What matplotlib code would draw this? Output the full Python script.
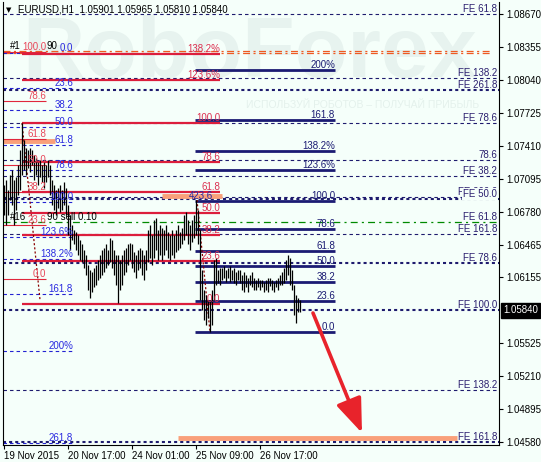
import matplotlib
matplotlib.use('Agg')
import matplotlib.pyplot as plt
import numpy as np

plt.rcParams['font.family'] = ['Liberation Sans', 'DejaVu Sans']
plt.rcParams['lines.scale_dashes'] = False

# H1 bars, one per hour (weekend skipped)
highs = [1.0704, 1.0709, 1.0699, 1.0713, 1.0718, 1.0709, 1.0711, 1.0723, 1.0737, 1.0763,
         1.0747, 1.0739, 1.0737, 1.0739, 1.0737, 1.0732, 1.0730, 1.0726, 1.0728, 1.0723,
         1.0726, 1.0723, 1.0728, 1.0723, 1.0709, 1.0704, 1.0699, 1.0701, 1.0704, 1.0699,
         1.0707, 1.0701, 1.0685, 1.0675, 1.0666, 1.0661, 1.0659, 1.0656, 1.0651, 1.0647,
         1.0642, 1.0637, 1.0627, 1.0623, 1.0621, 1.0625, 1.0627, 1.0632, 1.0637, 1.0642,
         1.0644, 1.0647, 1.0642, 1.0653, 1.0651, 1.0642, 1.0637, 1.0637, 1.0632, 1.0637,
         1.0642, 1.0644, 1.0647, 1.0648, 1.0647, 1.0640, 1.0637, 1.0642, 1.0644, 1.0642,
         1.0637, 1.0642, 1.0661, 1.0666, 1.0656, 1.0670, 1.0672, 1.0661, 1.0666, 1.0663,
         1.0661, 1.0666, 1.0659, 1.0656, 1.0661, 1.0656, 1.0661, 1.0666, 1.0659, 1.0663,
         1.0675, 1.0678, 1.0670, 1.0666, 1.0670, 1.0675, 1.0689, 1.0680, 1.0661, 1.0623,
         1.0604, 1.0599, 1.0594, 1.0594, 1.0604, 1.0632, 1.0634, 1.0623, 1.0625, 1.0625,
         1.0626, 1.0623, 1.0625, 1.0626, 1.0623, 1.0625, 1.0621, 1.0623, 1.0623, 1.0618,
         1.0621, 1.0618, 1.0615, 1.0618, 1.0621, 1.0615, 1.0613, 1.0615, 1.0613, 1.0613,
         1.0611, 1.0613, 1.0615, 1.0615, 1.0613, 1.0611, 1.0613, 1.0615, 1.0618, 1.0621,
         1.0625, 1.0632, 1.0637, 1.0634, 1.0623, 1.0608, 1.0599, 1.0596, 1.0594]
lows = [1.0675, 1.0666, 1.0675, 1.0689, 1.0685, 1.0666, 1.0680, 1.0694, 1.0699, 1.0713,
        1.0718, 1.0713, 1.0720, 1.0716, 1.0723, 1.0709, 1.0713, 1.0704, 1.0711, 1.0707,
        1.0701, 1.0707, 1.0711, 1.0694, 1.0685, 1.0680, 1.0675, 1.0682, 1.0678, 1.0680,
        1.0685, 1.0675, 1.0656, 1.0642, 1.0651, 1.0647, 1.0642, 1.0637, 1.0632, 1.0630,
        1.0625, 1.0618, 1.0604, 1.0596, 1.0602, 1.0606, 1.0608, 1.0613, 1.0615, 1.0618,
        1.0621, 1.0625, 1.0627, 1.0630, 1.0625, 1.0618, 1.0608, 1.0591, 1.0604, 1.0608,
        1.0618, 1.0621, 1.0627, 1.0632, 1.0625, 1.0621, 1.0615, 1.0623, 1.0625, 1.0618,
        1.0613, 1.0623, 1.0630, 1.0634, 1.0627, 1.0634, 1.0642, 1.0632, 1.0637, 1.0632,
        1.0637, 1.0642, 1.0634, 1.0632, 1.0637, 1.0634, 1.0640, 1.0642, 1.0644, 1.0647,
        1.0651, 1.0656, 1.0647, 1.0642, 1.0649, 1.0653, 1.0656, 1.0647, 1.0594, 1.0584,
        1.0575, 1.0570, 1.0577, 1.0563, 1.0570, 1.0594, 1.0608, 1.0610, 1.0608, 1.0613,
        1.0615, 1.0611, 1.0615, 1.0611, 1.0613, 1.0610, 1.0608, 1.0613, 1.0610, 1.0604,
        1.0602, 1.0606, 1.0602, 1.0608, 1.0606, 1.0604, 1.0604, 1.0606, 1.0604, 1.0606,
        1.0602, 1.0604, 1.0602, 1.0607, 1.0604, 1.0602, 1.0606, 1.0604, 1.0608, 1.0608,
        1.0610, 1.0613, 1.0618, 1.0608, 1.0604, 1.0580, 1.0572, 1.0583, 1.0583]

time_ticks = [0, 32, 64, 96, 128]
time_labels = ['19 Nov 2015', '20 Nov 17:00', '24 Nov 01:00', '25 Nov 09:00', '26 Nov 17:00']
price_ticks = [1.08670, 1.08355, 1.08040, 1.07725, 1.07410, 1.07095, 1.06780,
               1.06465, 1.06155, 1.05525, 1.05210, 1.04895, 1.04580]
last_price = 1.05840
header = 'EURUSD,H1  1.05901 1.05965 1.05810 1.05840'

# fibo expansion levels drawn across the whole chart
fe_labels = ['FE 61.8', 'FE 138.2', 'FE 261.8', 'FE 78.6', '78.6', 'FE 38.2', 'FE 200.0',
             'FE 50.0', 'FE 61.8', 'FE 161.8', 'FE 78.6', 'FE 100.0', 'FE 138.2', 'FE 161.8']
fe_prices = [1.08670, 1.08059, 1.07945, 1.07630, 1.07276, 1.07124, 1.06923,
             1.06904, 1.06685, 1.06570, 1.06293, 1.05845, 1.05081, 1.04585]
fe_thick = [False, False, True, False, False, False, False,
            True, False, False, True, True, False, True]

# fibo grids: levels, labels, price at 0 and at 100, first/last bar
red_levels = [0, 23.6, 38.2, 50, 61.8, 78.6, 100, 123.6, 138.2]
red_labels = ['0.0', '23.6', '38.2', '50.0', '61.8', '78.6', '100.0', '123.6%', '138.2%']
red_range = (1.05902, 1.07630)
red_bars = (9, 108)

small_levels = [0, 23.6, 38.2, 50, 61.8, 78.6, 100]
small_labels = ['0.0', '23.6', '38.2', '50.0', '61.8', '78.6', '100.0']
small_range = (1.06141, 1.08307)
small_bars = (-0.5, 21)

blue_levels = [0, 23.6, 38.2, 50, 61.8, 78.6, 100, 123.6, 138.2, 161.8, 200, 261.8]
blue_labels = ['0.0', '23.6', '38.2', '50.0', '61.8', '78.6', '100.0', '123.6%',
               '138.2%', '161.8', '200%', '261.8']
blue_range = (1.08298, 1.06876)
blue_bars = (-0.5, 34.5)

navy_levels = [0, 23.6, 38.2, 50, 61.8, 78.6, 100, 123.6, 138.2, 161.8, 200]
navy_labels = ['0.0', '23.6', '38.2', '50.0', '61.8', '78.6', '100.0', '123.6%',
               '138.2%', '161.8', '200%']
navy_range = (1.05635, 1.06885)
navy_bars = (95.5, 165.5)

# salmon bands: price, first bar, last bar
band_prices = [1.07458, 1.06933, 1.04623]
band_start = [-0.5, 79, 87]
band_end = [25.5, 109, 226.5]

green_price = 1.06685
orange_price = 1.08307
arrow_from = (154.5, 1.05816)
arrow_to = (179, 1.04671)
diag_1 = ([9, 18], [1.07630, 1.05941])
diag_2 = ([96.5, 103], [1.06894, 1.05635])

bg = '#F5FFFA'
fig = plt.figure(figsize=(5.41, 4.62), dpi=100, facecolor=bg)
ax = fig.add_axes([3 / 541, 17 / 462, 496 / 541, 443 / 462], facecolor=bg)
ax.set_xlim(-0.5, 247.5)
ax.set_ylim(1.045561, 1.087845)

# watermark
ax.text(0.498, 0.88, 'RoboForex', transform=ax.transAxes, ha='center', va='center',
        fontsize=62, fontweight='bold', color='#E7F3EF', zorder=0)
ax.text(0.724, 0.768, 'ИСПОЛЬЗУЙ РОБОТОВ – ПОЛУЧАЙ ПРИБЫЛЬ', transform=ax.transAxes,
        ha='center', va='center', fontsize=7.5, color='#E4F1EC', zorder=0)

def lab(x, y, s, color, ha='right'):
    ax.annotate(s, (x, y), xytext=(0, 2), textcoords='offset pixels', ha=ha,
                va='baseline', fontsize=7, color=color, zorder=5)

# full width FE lines
fe_col = '#1E1B6E'
for s, p, thick in zip(fe_labels, fe_prices, fe_thick):
    if p == green_price:
        continue
    if thick:
        ax.plot([-0.5, 247.5], [p, p], color=fe_col, lw=1.5, dashes=(2.2, 2.2), zorder=1)
    else:
        ax.plot([-0.5, 247.5], [p, p], color=fe_col, lw=0.8, dashes=(2.5, 2.2), zorder=1)
for s, p in zip(fe_labels, fe_prices):
    t = ax.annotate(s, (246.5, p), xytext=(0, 2), textcoords='offset pixels', ha='right',
                    va='baseline', fontsize=7, color='#2B1F6F', zorder=5)
    if s == 'FE 50.0':
        t.set_bbox(dict(facecolor=bg, edgecolor='none', pad=0.5))

ax.plot([-0.5, 247.5], [green_price] * 2, color='#008A00', lw=0.9,
        dashes=(5, 3, 1.5, 3), zorder=1)
for off in (0.00008, -0.00010):
    ax.plot([-0.5, 244], [orange_price + off] * 2, color='#EE5A22', lw=0.9,
            dashes=(5, 2.5, 1.5, 2.5), zorder=1)

# salmon bands
for p, a, b in zip(band_prices, band_start, band_end):
    ax.plot([a, b], [p, p], color='#F9A07A', lw=3.5, solid_capstyle='butt', zorder=1.5)

def fibo(levels, labels, rng, bars, color, lcolor, lw, dashed=False):
    p0, p100 = rng
    for lv, s in zip(levels, labels):
        p = p0 + (p100 - p0) * lv / 100.0
        if dashed:
            ax.plot(bars, [p, p], color=color, lw=lw, dashes=(2.5, 2.2), zorder=2)
        else:
            ax.plot(bars, [p, p], color=color, lw=lw, solid_capstyle='butt', zorder=2)
        lab(bars[1], p, s, lcolor)

fibo(blue_levels, blue_labels, blue_range, blue_bars, '#2323D2', '#2A2AE0', 0.8, dashed=True)
fibo(small_levels, small_labels, small_range, small_bars, '#E0283C', '#E8485A', 0.8)
fibo(red_levels, red_labels, red_range, red_bars, '#DC1E3C', '#DC3050', 1.6)
fibo(navy_levels, navy_labels, navy_range, navy_bars, '#1B1B73', '#1B1B73', 2.0)

ax.plot(*diag_1, color='#8B0000', lw=0.9, dashes=(1.5, 1.5), zorder=2.5)
ax.plot(*diag_2, color='#8B0000', lw=0.9, dashes=(1.5, 1.5), zorder=2.5)

# price bars
x = np.arange(len(highs))
ax.vlines(x, lows, highs, color='black', lw=0.9, zorder=3)

# order / object texts
ax.text(3, 1.08364, '#1', fontsize=7, va='center', color='black', zorder=5)
ax.text(21.5, 1.08364, '90', fontsize=7, va='center', color='black', zorder=5)
ax.text(3, 1.06732, '#16', fontsize=7, va='center', color='black', zorder=5)
ax.text(21.5, 1.06732, '90 sell 0.10', fontsize=7, va='center', color='black', zorder=5)
ax.text(104.5, 1.06933, '423.6', fontsize=7, va='center', ha='right', color='#2A2AA0', zorder=5)

# forecast arrow
ax.annotate('', xy=arrow_to, xytext=arrow_from,
            arrowprops=dict(arrowstyle='-|>,head_length=2.1,head_width=0.8', lw=2.6,
                            color='#E8232B', shrinkA=0, shrinkB=0, mutation_scale=10),
            zorder=6)

# axes
ax.spines['top'].set_visible(False)
for side in ['left', 'right', 'bottom']:
    ax.spines[side].set_color('black')
    ax.spines[side].set_linewidth(0.8)
ax.yaxis.tick_right()
ax.set_yticks(price_ticks)
ax.set_yticklabels(['%.5f' % p for p in price_ticks])
ax.tick_params(axis='y', length=3, width=0.8, pad=2, labelsize=7, colors='black')
ax.set_xticks(time_ticks)
ax.set_xticklabels(time_labels, ha='left')
ax.tick_params(axis='x', length=3, width=0.8, pad=1.5, labelsize=7, colors='black')

ax.annotate('%.5f' % last_price, (1.0, last_price), xycoords=('axes fraction', 'data'),
            xytext=(4, 0), textcoords='offset pixels', ha='left', va='center', fontsize=7,
            color='white', bbox=dict(boxstyle='square,pad=0.25', fc='black', ec='black'),
            annotation_clip=False, zorder=7)

fig.text(9 / 541, 1 - 10 / 462, '▼', fontsize=5, ha='center', va='center',
         family='DejaVu Sans')
fig.text(18 / 541, 1 - 10 / 462, header, fontsize=7, ha='left', va='center')

fig.savefig('out.png', dpi=100, facecolor=bg)
